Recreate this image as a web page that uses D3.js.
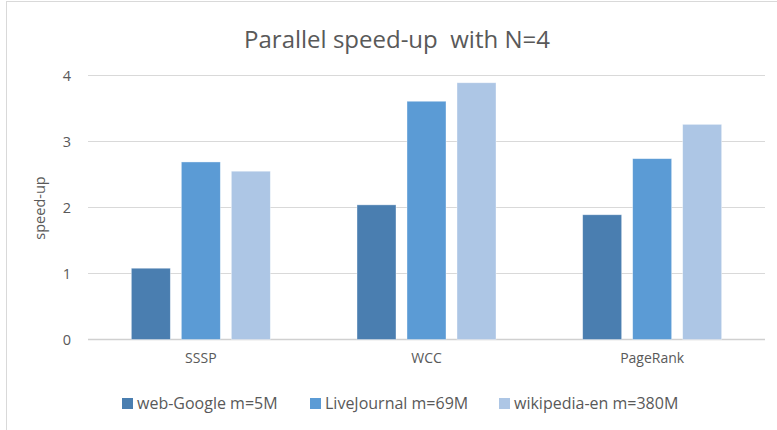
<!DOCTYPE html>
<html>
<head>
<meta charset="utf-8">
<script src="https://cdn.jsdelivr.net/npm/d3@7"></script>
<style>
  body { margin: 0; background: #fff; }
  text { font-family: "Open Sans", sans-serif; fill: #595959; }
</style>
</head>
<body>
<script>
var width = 777,
  height = 430;

var categories = ["SSSP", "WCC", "PageRank"];
var seriesNames = ["web-Google m=5M", "LiveJournal m=69M", "wikipedia-en m=380M"];
var webGoogle = [1.08, 2.04, 1.89];
var liveJournal = [2.69, 3.61, 2.74];
var wikipediaEn = [2.55, 3.89, 3.26];
var yTicks = [0, 1, 2, 3, 4];
var colors = ["#4a7eb0", "#5b9bd5", "#adc6e5"];

var series = [webGoogle, liveJournal, wikipediaEn];

var groupWidth = 139;

var scaleX = d3.scaleBand()
                .domain(categories)
                .range([88, 765]);

var scaleSeries = d3.scaleBand()
                .domain(d3.range(series.length))
                .range([0, groupWidth])
                .paddingInner(0.22);

var scaleY = d3.scaleLinear()
                .domain([0, 4])
                .range([339.5, 75.5]);

function drawFrame(svgCanvas) {
  svgCanvas.append("rect")
    .attr("x", 6.5)
    .attr("y", 1.5)
    .attr("width", 820)
    .attr("height", 500)
    .attr("fill", "none")
    .style("stroke", "#d9d9d9")
    .style("stroke-width", 1);

  svgCanvas.append("text")
    .attr("x", 397)
    .attr("y", 48)
    .attr("text-anchor", "middle")
    .style("font-size", "24px")
    .style("white-space", "pre")
    .text("Parallel speed-up  with N=4");
}

function drawAxes(svgCanvas) {
  var grid = svgCanvas.append("g");
  grid.selectAll("line")
    .data(yTicks)
    .enter()
    .append("line")
    .attr("x1", 88)
    .attr("x2", 765)
    .attr("y1", function(d) { return scaleY(d); })
    .attr("y2", function(d) { return scaleY(d); })
    .style("stroke", function(d) { return d === 0 ? "#d0d0d0" : "#d9d9d9"; })
    .style("stroke-width", function(d) { return d === 0 ? 1.5 : 1; });

  var yAxis = d3.axisLeft(scaleY)
                .tickValues(yTicks)
                .tickSize(0)
                .tickPadding(17)
                .tickFormat(d3.format("d"));

  var yg = svgCanvas.append("g")
    .attr("transform", "translate(88,0)")
    .call(yAxis);
  yg.select(".domain").remove();
  yg.selectAll("text")
    .style("font-size", "14.5px")
    .style("font-family", "'Open Sans', sans-serif")
    .attr("fill", "#595959");

  var xAxis = d3.axisBottom(scaleX)
                .tickSize(0)
                .tickPadding(14);
  var xg = svgCanvas.append("g")
    .attr("transform", "translate(0,339.5)")
    .call(xAxis);
  xg.select(".domain").remove();
  xg.selectAll("text")
    .style("font-size", "14px")
    .style("font-family", "'Open Sans', sans-serif")
    .attr("fill", "#595959");

  svgCanvas.append("text")
    .attr("transform", "translate(45,208) rotate(-90)")
    .attr("text-anchor", "middle")
    .style("font-size", "14.5px")
    .text("speed-up");
}

function drawBars(svgCanvas) {
  var groupOffset = (scaleX.bandwidth() - groupWidth) / 2;

  var groups = svgCanvas.selectAll("g.series")
    .data(series)
    .enter()
    .append("g")
    .attr("class", "series")
    .attr("fill", function(d, i) { return colors[i]; });

  groups.each(function(values, si) {
    d3.select(this).selectAll("rect")
      .data(values)
      .enter()
      .append("rect")
      .attr("x", function(d, i) {
        return scaleX(categories[i]) + groupOffset + scaleSeries(si);
      })
      .attr("y", function(d) { return scaleY(d); })
      .attr("width", scaleSeries.bandwidth())
      .attr("height", function(d) { return scaleY(0) - scaleY(d); })
      .style("stroke", "#ffffff")
      .style("stroke-opacity", 0.5)
      .style("stroke-width", 0.75);
  });
}

function drawLegend(svgCanvas) {
  var legendX = [122, 310, 499];
  var items = svgCanvas.selectAll("g.legend")
    .data(seriesNames)
    .enter()
    .append("g")
    .attr("class", "legend")
    .attr("transform", function(d, i) { return "translate(" + legendX[i] + ",398)"; });

  items.append("rect")
    .attr("width", 11)
    .attr("height", 11)
    .attr("fill", function(d, i) { return colors[i]; });

  items.append("text")
    .attr("x", 15)
    .attr("y", 10.5)
    .style("font-size", "16px")
    .text(function(d) { return d; });
}

function loadChart() {
  var svgCanvas = d3.select("body").append("svg")
                    .attr("width", width)
                    .attr("height", height);

  drawFrame(svgCanvas);
  drawAxes(svgCanvas);
  drawBars(svgCanvas);
  drawLegend(svgCanvas);
}

loadChart();
</script>
</body>
</html>
